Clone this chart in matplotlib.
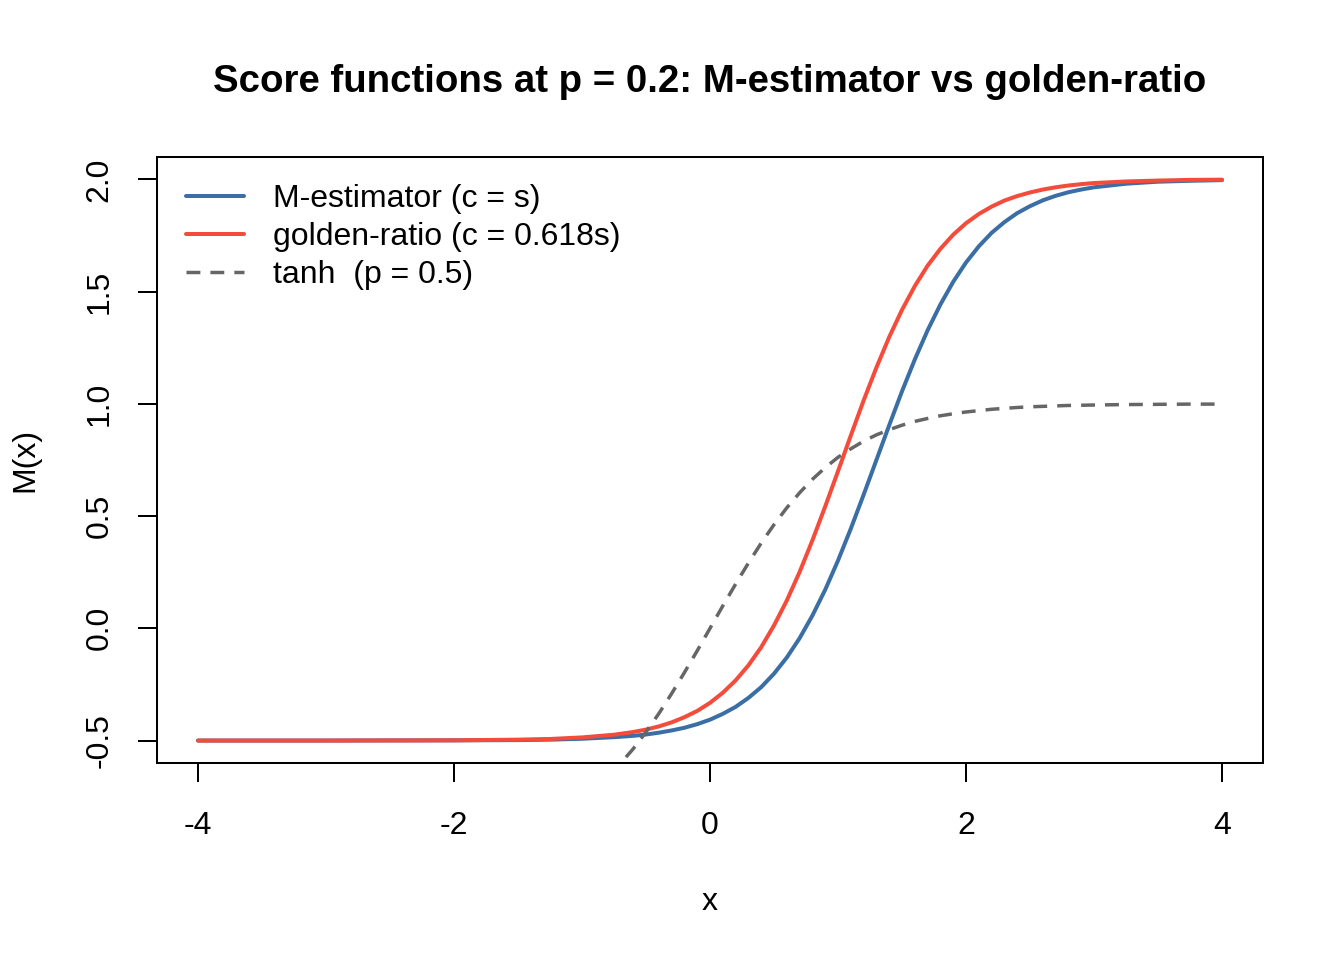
import numpy as np
import matplotlib
matplotlib.use("Agg")
import matplotlib.pyplot as plt

plt.rcParams['font.family'] = ['Liberation Sans', 'DejaVu Sans']

# values
x_vals = [-4, -3, -2, -1.5, -1.25, -1, -0.75, -0.6, -0.5, -0.4, -0.3, -0.2, -0.1, 0,
          0.1, 0.2, 0.3, 0.4, 0.5, 0.6, 0.7, 0.8, 0.9, 1.0,
          1.1, 1.2, 1.3, 1.4, 1.5, 1.6, 1.7, 1.8, 1.9, 2.0,
          2.1, 2.2, 2.3, 2.4, 2.5, 2.6, 2.7, 2.8, 2.9, 3.0,
          3.25, 3.5, 3.75, 4.0]

m_estimator = [-0.500, -0.500, -0.499, -0.498, -0.496, -0.492, -0.485, -0.479, -0.473, -0.465, -0.455, -0.443, -0.427, -0.407,
               -0.381, -0.350, -0.310, -0.262, -0.202, -0.130, -0.044, 0.057, 0.172, 0.302,
               0.444, 0.595, 0.750, 0.905, 1.056, 1.198, 1.328, 1.443, 1.544, 1.630,
               1.702, 1.762, 1.810, 1.850, 1.881, 1.907, 1.927, 1.943, 1.955, 1.965,
               1.981, 1.990, 1.994, 1.997]

golden_ratio = [-0.500, -0.500, -0.499, -0.496, -0.493, -0.486, -0.474, -0.462, -0.451, -0.437, -0.419, -0.396, -0.368, -0.332,
                -0.287, -0.232, -0.165, -0.084, 0.013, 0.124, 0.251, 0.392, 0.543, 0.700,
                0.859, 1.015, 1.162, 1.298, 1.419, 1.525, 1.616, 1.691, 1.754, 1.805,
                1.846, 1.879, 1.906, 1.926, 1.942, 1.955, 1.965, 1.973, 1.979, 1.984,
                1.991, 1.995, 1.998, 1.999]

tanh_ref = [-0.999, -0.995, -0.964, -0.905, -0.848, -0.762, -0.635, -0.537, -0.462, -0.380, -0.291, -0.197, -0.100, 0.000,
            0.100, 0.197, 0.291, 0.380, 0.462, 0.537, 0.604, 0.664, 0.716, 0.762,
            0.800, 0.834, 0.862, 0.885, 0.905, 0.922, 0.935, 0.947, 0.956, 0.964,
            0.970, 0.976, 0.980, 0.984, 0.987, 0.989, 0.991, 0.993, 0.994, 0.995,
            0.997, 0.998, 0.999, 0.999]

labels = ["M-estimator (c = s)", "golden-ratio (c = 0.618s)", "tanh  (p = 0.5)"]
x_ticks = [-4, -2, 0, 2, 4]
y_ticks = [-0.5, 0.0, 0.5, 1.0, 1.5, 2.0]

W, H = 1344, 960
fig = plt.figure(figsize=(7, 5), dpi=192)
ax = fig.add_axes([157 / W, 1 - 763 / H, (1263 - 157) / W, (763 - 157) / H])

ax.plot(x_vals, m_estimator, color='#3A6EA5', lw=1.5, solid_capstyle='round', label=labels[0])
ax.plot(x_vals, golden_ratio, color='#F44B3B', lw=1.5, solid_capstyle='round', label=labels[1])
ax.plot(x_vals, tanh_ref, color='#666666', lw=1.3, dashes=(4, 2.9), label=labels[2])

ax.set_xlim(-4.32, 4.32)
ax.set_ylim(-0.6, 2.1)
ax.set_xticks(x_ticks)
ax.set_xticklabels([f"{t:g}" for t in x_ticks])
ax.set_yticks(y_ticks)
ax.set_yticklabels([f"{t:.1f}" for t in y_ticks], rotation=90, va='center')
ax.tick_params(direction='out', length=7, width=0.75, labelsize=12, pad=9, color='black')
ax.tick_params(axis='x', pad=11)
for s in ax.spines.values():
    s.set_linewidth(0.75)
    s.set_color('black')

leg = ax.legend(loc='upper left', bbox_to_anchor=((185 - 157) / 1106 + 0.001, 1 - (184 - 157) / 606),
                frameon=False, fontsize=12, borderaxespad=0, borderpad=0,
                handlelength=1.8, handletextpad=0.9, labelspacing=0.25)

fig.text(710 / W, 1 - 82 / H, "Score functions at p = 0.2: M-estimator vs golden-ratio",
         ha='center', va='center', fontsize=14.4, fontweight='bold')
fig.text(710 / W, 1 - 902 / H, "x", ha='center', va='center', fontsize=12)
fig.text(25 / W, 1 - 460 / H, "M(x)", ha='center', va='center', fontsize=12, rotation=90)

fig.savefig("out.png", dpi=192)
